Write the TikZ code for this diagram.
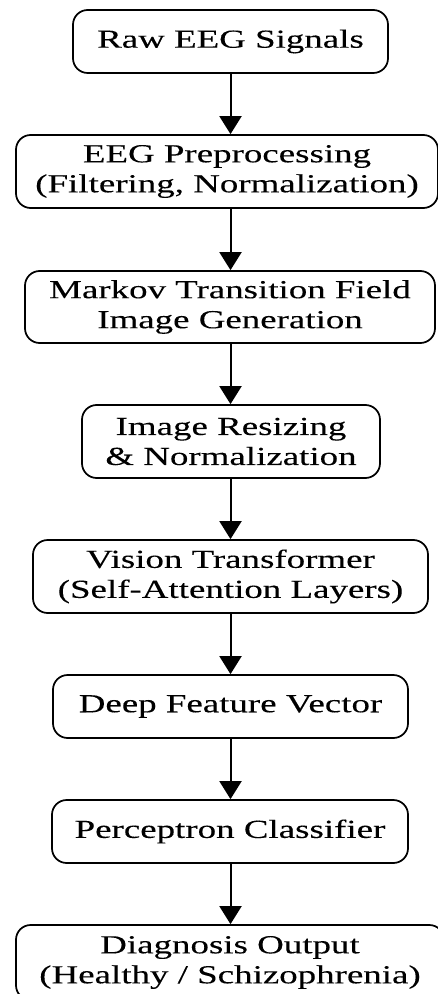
\documentclass[tikz,border=0pt]{standalone}
\usepackage{fontspec}
\setmainfont[FakeStretch=1.42,FakeBold=0.15]{Liberation Serif}
\usetikzlibrary{arrows.meta}
\begin{document}
\begin{tikzpicture}[x=0.75pt,y=-0.75pt,
  box/.style={draw=black, line width=1.3pt, rounded corners=11pt, align=center,
    inner sep=0pt, font=\fontsize{19.5}{22.5}\selectfont},
  arr/.style={line width=1.5pt, -{Triangle[length=13.5pt,width=16.5pt]}}]
\useasboundingbox (0,0) rectangle (438,994);
\clip (0,0) rectangle (438,994);
\fill[white] (0,0) rectangle (438,994);
\node[box, minimum width=236.25pt, minimum height=47.25pt] (b1) at (230.5,41.5) {Raw EEG Signals};
\node[box, minimum width=316.5pt, minimum height=54.75pt] (b2) at (227,171.5) {EEG Preprocessing\\(Filtering, Normalization)};
\node[box, minimum width=307.5pt, minimum height=54pt] (b3) at (230,307) {Markov Transition Field\\Image Generation};
\node[box, minimum width=223.5pt, minimum height=54.75pt] (b4) at (231,441.5) {Image Resizing\\\& Normalization};
\node[box, minimum width=296.25pt, minimum height=54.75pt] (b5) at (230.5,576.5) {Vision Transformer\\(Self-Attention Layers)};
\node[box, minimum width=266.25pt, minimum height=47.25pt] (b6) at (230.5,706.5) {Deep Feature Vector};
\node[box, minimum width=267pt, minimum height=47.25pt] (b7) at (230,831.5) {Perceptron Classifier};
\node[box, minimum width=321pt, minimum height=56.25pt] (b8) at (230,962.5) {Diagnosis Output\\(Healthy / Schizophrenia)};
\draw[arr] (b1.south) -- (b1.south |- b2.north);
\draw[arr] (b1.south |- b2.south) -- (b1.south |- b3.north);
\draw[arr] (b1.south |- b3.south) -- (b1.south |- b4.north);
\draw[arr] (b1.south |- b4.south) -- (b1.south |- b5.north);
\draw[arr] (b1.south |- b5.south) -- (b1.south |- b6.north);
\draw[arr] (b1.south |- b6.south) -- (b1.south |- b7.north);
\draw[arr] (b1.south |- b7.south) -- (b1.south |- b8.north);
\end{tikzpicture}
\end{document}
